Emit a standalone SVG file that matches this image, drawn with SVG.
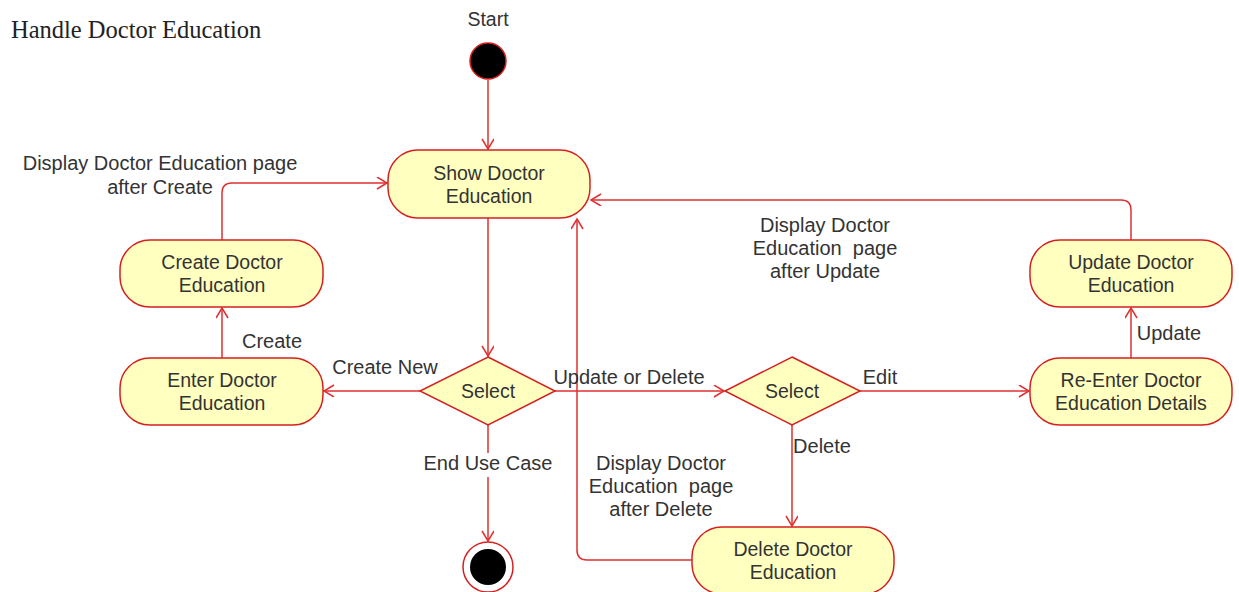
<svg xmlns="http://www.w3.org/2000/svg" width="1239" height="592" viewBox="0 0 1239 592">
<style>
.node{fill:#ffffc0;stroke:#d42020;stroke-width:1.5}
.t{font-family:"Liberation Sans",Arial,sans-serif;font-size:19.5px;fill:#333;text-anchor:middle}
.l{font-family:"Liberation Sans",Arial,sans-serif;font-size:20px;fill:#333;text-anchor:middle}
.c{fill:none;stroke:#e03030;stroke-width:1.5}
</style>
<defs>
<marker id="a" markerWidth="14" markerHeight="14" refX="11" refY="6" orient="auto" markerUnits="userSpaceOnUse">
<path d="M1,0 L11,6 L1,12" fill="none" stroke="#e03030" stroke-width="1.5"/>
</marker>
</defs>
<rect width="1239" height="592" fill="#fff"/>
<text x="11" y="38" font-family="Liberation Serif,serif" font-size="24.5" fill="#222">Handle Doctor Education</text>

<g id="connectors">
<path class="c" d="M488,80 L488,149" marker-end="url(#a)"/>
<path class="c" d="M488,218 L488,356" marker-end="url(#a)"/>
<path class="c" d="M488,425 L488,541" marker-end="url(#a)"/>
<path class="c" d="M420,391 L324,391" marker-end="url(#a)"/>
<path class="c" d="M222,358 L222,308" marker-end="url(#a)"/>
<path class="c" d="M222,240 L222,193 Q222,183 232,183 L387,183" marker-end="url(#a)"/>
<path class="c" d="M555,391 L724,391" marker-end="url(#a)"/>
<path class="c" d="M860,391 L1029,391" marker-end="url(#a)"/>
<path class="c" d="M1131,358 L1131,308" marker-end="url(#a)"/>
<path class="c" d="M1131,240 L1131,210 Q1131,200 1121,200 L591,200" marker-end="url(#a)"/>
<path class="c" d="M792,425 L792,526" marker-end="url(#a)"/>
<path class="c" d="M692,560 L587,560 Q577,560 577,550 L577,219" marker-end="url(#a)"/>
<rect x="422" y="453" width="132" height="24" fill="#fff"/>
<text class="l" x="488" y="470">End Use Case</text>
<text class="l" x="385" y="374">Create New</text>
<text class="l" x="272" y="348">Create</text>
<text class="l" x="160" y="170">Display Doctor Education page</text>
<text class="l" x="160" y="194">after Create</text>
<text class="l" x="629" y="384">Update or Delete</text>
<text class="l" x="880" y="384">Edit</text>
<text class="l" x="1169" y="340">Update</text>
<text class="l" x="825" y="232">Display Doctor</text>
<text class="l" x="825" y="255">Education&#160; page</text>
<text class="l" x="825" y="278">after Update</text>
<text class="l" x="822" y="453">Delete</text>
<text class="l" x="661" y="470">Display Doctor</text>
<text class="l" x="661" y="493">Education&#160; page</text>
<text class="l" x="661" y="516">after Delete</text>
</g>

<g id="start">
<text class="t" x="488" y="26">Start</text>
<circle cx="488" cy="61" r="18" fill="#000" stroke="#d42020" stroke-width="1.5"/>
</g>
<g id="end">
<circle cx="488" cy="567" r="25" fill="#fff" stroke="#d42020" stroke-width="1.5"/>
<circle cx="488" cy="567" r="18" fill="#000"/>
</g>
<g id="show">
<rect class="node" x="388" y="150" width="202" height="68" rx="30"/>
<text class="t" x="489" y="180">Show Doctor</text>
<text class="t" x="489" y="203">Education</text>
</g>
<g id="create">
<rect class="node" x="120" y="240" width="203" height="67" rx="30"/>
<text class="t" x="222" y="269">Create Doctor</text>
<text class="t" x="222" y="292">Education</text>
</g>
<g id="enter">
<rect class="node" x="120" y="358" width="203" height="67" rx="30"/>
<text class="t" x="222" y="387">Enter Doctor</text>
<text class="t" x="222" y="410">Education</text>
</g>
<g id="select1">
<polygon class="node" points="488,357 555,391 488,425 420,391"/>
<text class="t" x="488" y="398">Select</text>
</g>
<g id="select2">
<polygon class="node" points="792,357 860,391 792,425 725,391"/>
<text class="t" x="792" y="398">Select</text>
</g>
<g id="reenter">
<rect class="node" x="1030" y="358" width="202" height="67" rx="30"/>
<text class="t" x="1131" y="387">Re-Enter Doctor</text>
<text class="t" x="1131" y="410">Education Details</text>
</g>
<g id="update">
<rect class="node" x="1030" y="240" width="202" height="67" rx="30"/>
<text class="t" x="1131" y="269">Update Doctor</text>
<text class="t" x="1131" y="292">Education</text>
</g>
<g id="delete">
<rect class="node" x="692" y="527" width="202" height="67" rx="30"/>
<text class="t" x="793" y="556">Delete Doctor</text>
<text class="t" x="793" y="579">Education</text>
</g>
</svg>
